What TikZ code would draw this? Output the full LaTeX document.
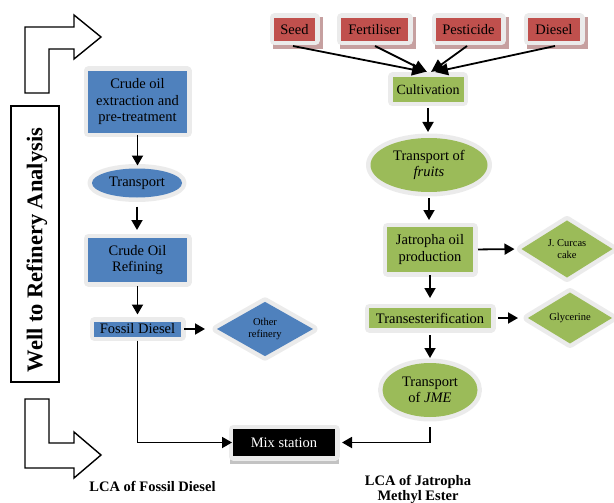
\documentclass[tikz,border=0pt]{standalone}
\usepackage{fontspec}
\setmainfont{Liberation Serif}
\usetikzlibrary{arrows.meta,shapes.geometric,backgrounds}
\definecolor{glowc}{RGB}{235,235,235}
\definecolor{blueF}{RGB}{79,129,189}
\definecolor{redF}{RGB}{192,80,77}
\definecolor{greenF}{RGB}{155,187,89}
\definecolor{redshadow}{RGB}{198,160,160}
\definecolor{mixshadow}{RGB}{195,195,195}
\tikzset{
 glow/.style={preaction={draw=glowc,line width=9pt,line join=round}},
 base/.style={inner sep=0pt, outer sep=0pt, align=center, font=\fontsize{14.5}{16.5}\selectfont, glow},
 bluebox/.style={base, rectangle, fill=blueF},
 blueell/.style={base, ellipse, fill=blueF},
 bluedia/.style={base, diamond, fill=blueF, font=\fontsize{10.5}{11.5}\selectfont},
 redbox/.style={base, rectangle, fill=redF, minimum height=23pt},
 greenbox/.style={base, rectangle, fill=greenF},
 greenell/.style={base, ellipse, fill=greenF},
 greendia/.style={base, diamond, fill=greenF, font=\fontsize{10.5}{11.5}\selectfont},
 mixbox/.style={base, rectangle, fill=black, text=white},
 arr/.style={line width=1.8pt, -{Triangle[length=10pt,width=11pt]}},
 redarr/.style={line width=1.8pt, -{Triangle[length=13pt,width=12pt]}},
 bigarr/.style={draw=black, line width=1.4pt, fill=white, line join=miter},
 lca/.style={font=\bfseries\fontsize{14.5}{15}\selectfont, align=center, inner sep=0pt},
}
\begin{document}
\begin{tikzpicture}[x=1pt,y=-1pt]
\useasboundingbox (0,0) rectangle (614,503);

% bent arrows and left label box
\draw[bigarr] (25,93) -- (25,27) -- (74,27) -- (74,15) -- (101,37) -- (74,59) -- (74,49) -- (49,49) -- (49,93) -- cycle;
\draw[bigarr] (25,399) -- (49,399) -- (49,443) -- (74,443) -- (74,432) -- (101,455) -- (74,478) -- (74,468) -- (25,468) -- cycle;
\node[draw, line width=1.4pt, minimum width=48pt, minimum height=276pt, inner sep=0pt] (wbox) at (35,244) {};
\node[rotate=90, inner sep=0pt, font=\bfseries\fontsize{22.5}{24}\selectfont] (wtxt) at (37,250) {Well to Refinery Analysis};

% left column
\node[bluebox, minimum width=99pt, minimum height=62pt] (crude) at (137.5,102) {Crude oil\\extraction and\\pre-treatment};
\node[blueell, minimum width=90pt, minimum height=29pt] (tr1) at (137,183) {Transport};
\node[bluebox, minimum width=99pt, minimum height=44pt] (ref) at (137.5,260) {Crude Oil\\Refining};
\node[bluebox, minimum width=87pt, minimum height=15pt] (fd) at (137.5,329) {Fossil Diesel};
\node[bluedia, minimum width=96pt, minimum height=48pt] (oth) at (265,329) {Other\\refinery};

% inputs
\node[redbox, minimum width=41pt] (seed) at (294.5,29.5) {Seed};
\node[redbox, minimum width=67pt] (fert) at (374.5,29.5) {Fertiliser};
\node[redbox, minimum width=65pt] (pest) at (468.5,29.5) {Pesticide};
\node[redbox, minimum width=52pt] (dies) at (554,29.5) {Diesel};

% right column
\node[greenbox, minimum width=71pt, minimum height=25pt, font=\fontsize{14}{16}\selectfont] (cult) at (428,89.5) {Cultivation};
\node[greenell, minimum width=117pt, minimum height=54pt] (fruit) at (429,165) {Transport of\\\textit{fruits}};
\node[greenbox, minimum width=86pt, minimum height=45pt, font=\fontsize{14.5}{17.5}\selectfont] (jat) at (430,249.5) {Jatropha oil\\production};
\node[greendia, minimum width=91pt, minimum height=48pt] (cake) at (567,249) {J. Curcas\\cake};
\node[greenbox, minimum width=122pt, minimum height=20pt] (trans) at (430,318) {Transesterification};
\node[greendia, minimum width=84pt, minimum height=36pt] (gly) at (570,318) {Glycerine};
\node[greenell, minimum width=95pt, minimum height=54pt] (jme) at (430,390) {Transport\\of \textit{JME}};

% mix station
\node[mixbox, minimum width=102pt, minimum height=27pt] (mix) at (284,442.5) {Mix station};

% shadows
\begin{scope}[on background layer]
\foreach \n in {seed,fert,pest,dies}{
  \fill[redshadow] ([shift={(-1.5,-0.5)}]\n.north west) rectangle ([shift={(7.5,8.5)}]\n.south east);
}
\fill[mixshadow] ([shift={(-3,0)}]mix.north west) rectangle ([shift={(4,8)}]mix.south east);
\end{scope}

% labels
\node[lca] (lcaf) at (152.5,486) {LCA of Fossil Diesel};
\node[lca] (lcaj) at (418,489.5) {LCA of Jatropha\\Methyl Ester};

% connectors: left column
\draw[arr, shorten <=2pt, shorten >=3pt] (crude.south) -- (crude.south |- tr1.north);
\draw[arr, shorten <=9pt, shorten >=8pt] (tr1.south) -- (tr1.south |- ref.north);
\draw[arr, shorten <=4pt, shorten >=7pt] (ref.south) -- (ref.south |- fd.north);
\draw[arr, shorten <=3pt, shorten >=12pt] (fd.east) -- (oth.west);
\draw[arr, shorten <=4pt, shorten >=1pt] (fd.south) |- (mix.west);

% connectors: inputs
\draw[redarr] ([shift={(-1.5,5)}]seed.south) -- ([shift={(-3,-5)}]cult.north);
\draw[redarr] ([shift={(0.5,5)}]fert.south) -- ([shift={(-1,-5)}]cult.north);
\draw[redarr] ([shift={(-1.5,5)}]pest.south) -- ([shift={(3,-5)}]cult.north);
\draw[redarr] ([shift={(1,5)}]dies.south) -- ([shift={(7,-5)}]cult.north);

% connectors: right column
\draw[arr, shorten <=6pt, shorten >=6pt] (cult.south) -- (cult.south |- fruit.north);
\draw[arr, shorten <=6pt, shorten >=7pt] (fruit.south) -- (fruit.south |- jat.north);
\draw[arr, shorten <=5pt, shorten >=7pt] (jat.east) -- (cake.west);
\draw[arr, shorten <=3pt, shorten >=10pt] (jat.south) -- (jat.south |- trans.north);
\draw[arr, shorten <=7pt, shorten >=10pt] (trans.east) -- (gly.west);
\draw[arr, shorten <=7pt, shorten >=5pt] (trans.south) -- (trans.south |- jme.north);
\draw[arr, shorten <=10pt, shorten >=7pt] (jme.south) |- (mix.east);
\end{tikzpicture}
\end{document}
